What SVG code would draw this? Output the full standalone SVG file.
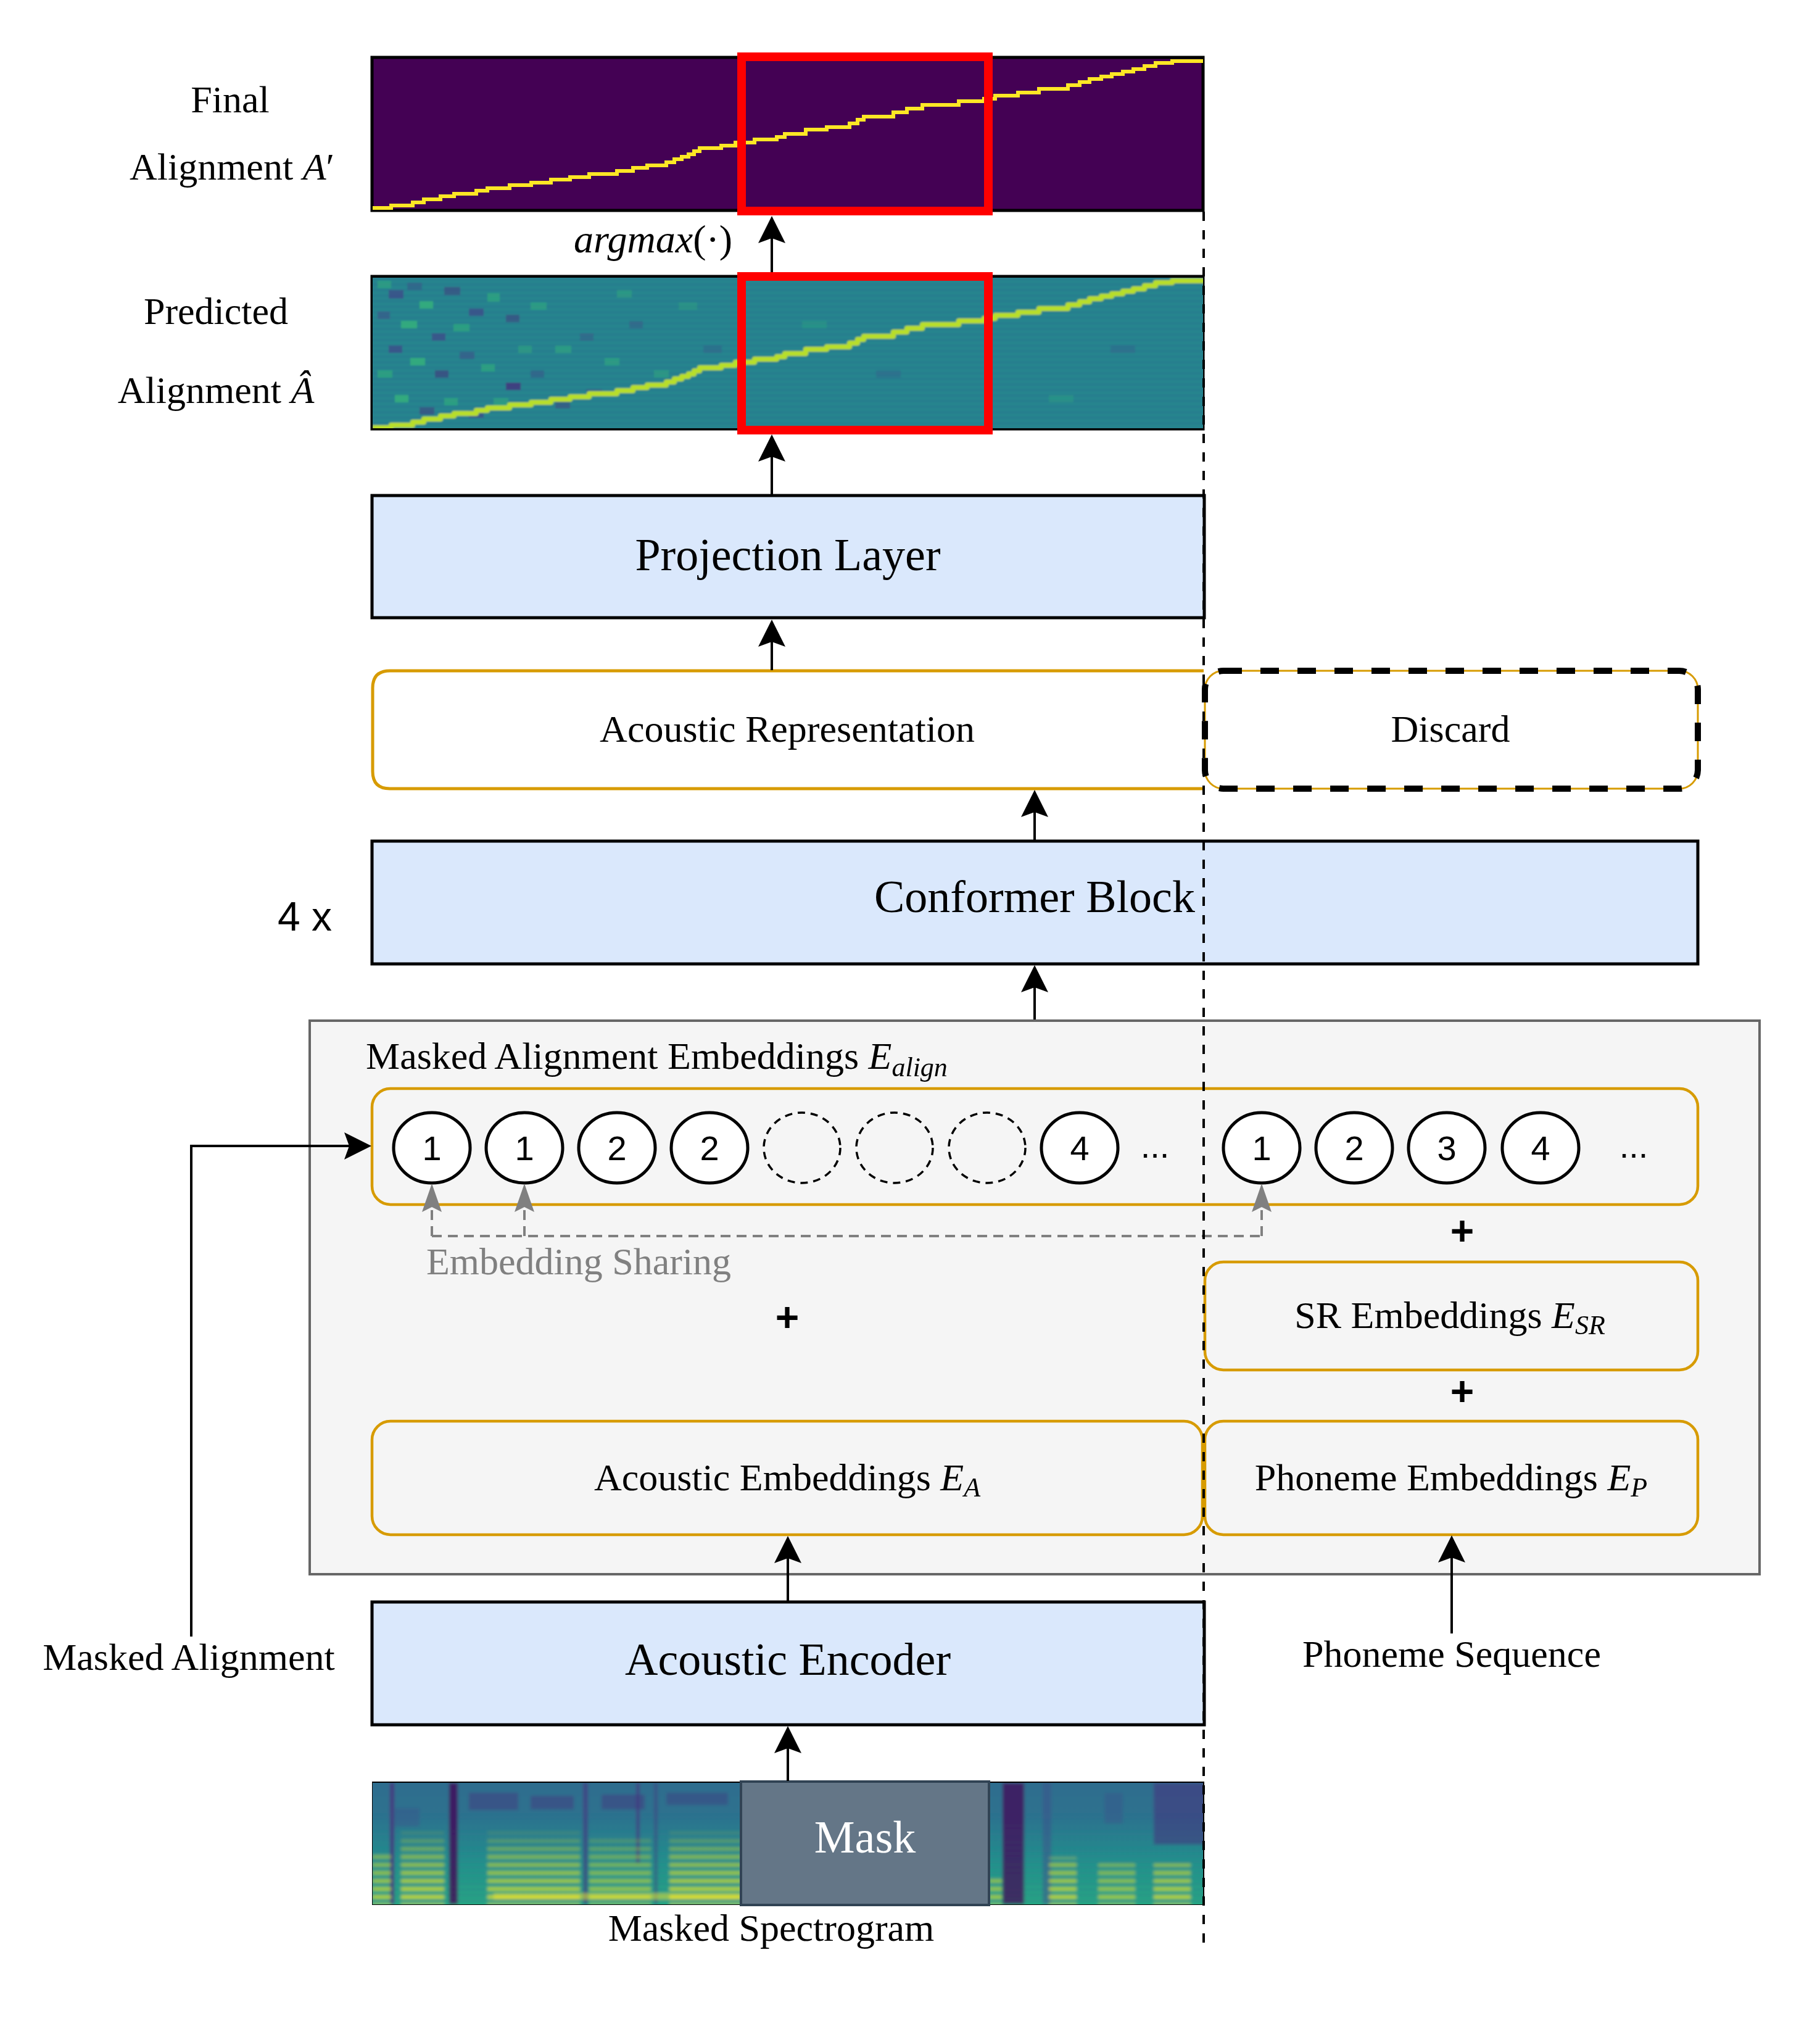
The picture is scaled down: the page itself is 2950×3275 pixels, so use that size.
<svg xmlns="http://www.w3.org/2000/svg" width="2950" height="3275" viewBox="0 0 2950 3275">
<style>
.serif{font-family:"Liberation Serif","Times New Roman",serif;fill:#000}
.sans{font-family:"Liberation Sans",Arial,sans-serif;fill:#000}
.it{font-style:italic}
.blue{fill:#dae8fc;stroke:#000;stroke-width:5}
.orange{fill:none;stroke:#d79b00;stroke-width:4.5}
.circ{fill:#fff;stroke:#000;stroke-width:5}
.dcirc{fill:none;stroke:#000;stroke-width:3.5;stroke-dasharray:12 9}
.conn{fill:none;stroke:#000;stroke-width:4}
.gconn{fill:none;stroke:#808080;stroke-width:4;stroke-dasharray:16 10}
.redbox{fill:none;stroke:#ff0000;stroke-width:14}
.num{font-family:"Liberation Sans",Arial,sans-serif;font-size:56px;text-anchor:middle}
.plus{font-family:"Liberation Sans",Arial,sans-serif;font-size:66px;font-weight:bold;text-anchor:middle}
</style>
<defs>
<marker id="ah" viewBox="-50 -25 60 50" markerWidth="60" markerHeight="50" refX="-10" refY="0" orient="auto" markerUnits="userSpaceOnUse">
<path d="M0,0 L-44,-22 L-36,0 L-44,22 Z" fill="#000"/>
</marker>
<marker id="gh" viewBox="-50 -25 60 50" markerWidth="60" markerHeight="50" refX="-10" refY="0" orient="auto" markerUnits="userSpaceOnUse">
<path d="M0,0 L-46,-16 L-38,0 L-46,16 Z" fill="#808080"/>
</marker>
<linearGradient id="specg" x1="0" y1="0" x2="0" y2="1">
<stop offset="0" stop-color="#2f6b8e"/>
<stop offset="0.3" stop-color="#2c728e"/>
<stop offset="0.6" stop-color="#21918c"/>
<stop offset="1" stop-color="#28ae80"/>
</linearGradient>
<linearGradient id="harmfade" x1="0" y1="0" x2="0" y2="1">
<stop offset="0" stop-color="#fff" stop-opacity="0"/>
<stop offset="0.35" stop-color="#fff" stop-opacity="0.55"/>
<stop offset="1" stop-color="#fff" stop-opacity="1"/>
</linearGradient>
<mask id="harmMask" maskUnits="userSpaceOnUse" x="600" y="2880" width="1360" height="210">
<rect x="600" y="2960" width="1360" height="130" fill="url(#harmfade)"/>
</mask>
<pattern id="harm" x="0" y="2889" width="20" height="13" patternUnits="userSpaceOnUse">
<rect x="0" y="0" width="20" height="6" fill="#d8e219"/>
</pattern>
<pattern id="hstripe" x="0" y="0" width="20" height="9" patternUnits="userSpaceOnUse">
<rect x="0" y="0" width="20" height="4" fill="#2f6c8e" opacity="0.35"/>
</pattern>
<filter id="soft" x="-5%" y="-5%" width="110%" height="110%"><feGaussianBlur stdDeviation="2.5"/></filter>
<filter id="soft2" x="-5%" y="-5%" width="110%" height="110%"><feGaussianBlur stdDeviation="1.5"/></filter>
<clipPath id="clipFinal"><rect x="604" y="94" width="1346" height="246"/></clipPath>
<clipPath id="clipPred"><rect x="604" y="450" width="1346" height="244"/></clipPath>
<clipPath id="clipSpecL"><rect x="604" y="2889" width="597" height="197"/></clipPath>
<clipPath id="clipSpecR"><rect x="1604" y="2889" width="346" height="197"/></clipPath>
</defs>

<rect x="0" y="0" width="2950" height="3275" fill="#fff"/>

<!-- Final alignment -->
<g id="final-alignment">
<rect x="603" y="93" width="1347" height="248" fill="#440154" stroke="#000" stroke-width="5"/>
<g clip-path="url(#clipFinal)">
<path d="M604,337 H634 V333 H669 V328 H687 V323 H714 V318 H736 V314 H772 V309 H790 V305 H826 V300 H861 V296 H893 V291 H924 V287 H955 V282 H1000 V277 H1026 V272 H1049 V268 H1080 V263 H1093 V258 H1105 V254 H1116 V250 H1125 V245 H1134 V240 H1169 V236 H1192 V231 H1223 V226 H1259 V222 H1272 V217 H1306 V210 H1340 V206 H1377 V200 H1390 V194 H1400 V189 H1448 V182 H1470 V176 H1495 V170 H1554 V164 H1595 V160 H1613 V155 H1650 V150 H1684 V144 H1731 V138 H1750 V133 H1766 V128 H1785 V124 H1802 V120 H1820 V116 H1837 V112 H1855 V107 H1873 V102 H1900 V99 H1950 V96" fill="none" stroke="#fde725" stroke-width="6"/>
</g>
<rect class="redbox" x="1202" y="92" width="400" height="250"/>
<text class="serif" x="373" y="182" font-size="62" text-anchor="middle">Final</text>
<text class="serif" x="376" y="291" font-size="62" text-anchor="middle">Alignment <tspan class="it">A</tspan>′</text>
</g>

<!-- argmax label -->
<g id="argmax-label">
<text class="serif" x="930" y="409" font-size="64"><tspan class="it">argmax</tspan>(·)</text>
</g>

<!-- Predicted alignment -->
<g id="predicted-alignment">
<rect x="603" y="448" width="1347" height="247" fill="#25858e" stroke="#000" stroke-width="5"/>
<g clip-path="url(#clipPred)">
<g filter="url(#soft2)">
<rect x="590" y="440" width="1370" height="264" fill="#25858e"/>
<rect x="590" y="450" width="1370" height="250" fill="url(#hstripe)"/>
<g opacity="0.75">
<rect x="630" y="470" width="24" height="14" fill="#3e4a89"/>
<rect x="612" y="455" width="22" height="12" fill="#35b779" opacity="0.6"/>
<rect x="660" y="458" width="24" height="12" fill="#3e4a89" opacity="0.6"/>
<rect x="680" y="488" width="22" height="12" fill="#35b779"/>
<rect x="720" y="465" width="26" height="13" fill="#472d7b" opacity="0.6"/>
<rect x="760" y="500" width="24" height="12" fill="#3e4a89"/>
<rect x="790" y="475" width="20" height="14" fill="#35b779" opacity="0.7"/>
<rect x="650" y="520" width="26" height="12" fill="#35b779"/>
<rect x="612" y="505" width="20" height="12" fill="#3e4a89" opacity="0.7"/>
<rect x="700" y="540" width="22" height="12" fill="#3e4a89"/>
<rect x="735" y="525" width="26" height="12" fill="#35b779" opacity="0.7"/>
<rect x="820" y="510" width="22" height="12" fill="#472d7b" opacity="0.6"/>
<rect x="860" y="490" width="26" height="12" fill="#35b779" opacity="0.6"/>
<rect x="630" y="560" width="22" height="12" fill="#3e4a89"/>
<rect x="612" y="600" width="24" height="12" fill="#35b779" opacity="0.7"/>
<rect x="665" y="580" width="24" height="12" fill="#35b779"/>
<rect x="705" y="600" width="22" height="12" fill="#472d7b" opacity="0.7"/>
<rect x="745" y="570" width="24" height="12" fill="#3e4a89" opacity="0.7"/>
<rect x="780" y="590" width="22" height="12" fill="#35b779" opacity="0.7"/>
<rect x="820" y="620" width="24" height="12" fill="#472d7b"/>
<rect x="860" y="600" width="22" height="12" fill="#3e4a89" opacity="0.6"/>
<rect x="900" y="560" width="26" height="12" fill="#35b779" opacity="0.6"/>
<rect x="940" y="540" width="22" height="12" fill="#3e4a89" opacity="0.5"/>
<rect x="640" y="640" width="22" height="12" fill="#35b779"/>
<rect x="680" y="660" width="24" height="12" fill="#472d7b" opacity="0.6"/>
<rect x="720" y="645" width="22" height="12" fill="#35b779" opacity="0.7"/>
<rect x="760" y="665" width="24" height="12" fill="#3e4a89"/>
<rect x="800" y="645" width="24" height="12" fill="#35b779" opacity="0.6"/>
<rect x="980" y="580" width="24" height="12" fill="#35b779" opacity="0.6"/>
<rect x="1020" y="520" width="22" height="12" fill="#3e4a89" opacity="0.5"/>
<rect x="1060" y="600" width="24" height="12" fill="#35b779" opacity="0.5"/>
<rect x="950" y="630" width="26" height="12" fill="#3e4a89" opacity="0.5"/>
<rect x="1000" y="470" width="24" height="12" fill="#35b779" opacity="0.5"/>
<rect x="900" y="650" width="24" height="12" fill="#472d7b" opacity="0.5"/>
<rect x="840" y="560" width="22" height="12" fill="#35b779" opacity="0.5"/>
<rect x="1100" y="490" width="30" height="12" fill="#35b779" opacity="0.4"/>
<rect x="1140" y="560" width="30" height="12" fill="#3e4a89" opacity="0.4"/>
<rect x="1300" y="520" width="40" height="12" fill="#35b779" opacity="0.35"/>
<rect x="1420" y="600" width="40" height="12" fill="#3e4a89" opacity="0.35"/>
<rect x="1700" y="640" width="40" height="12" fill="#35b779" opacity="0.35"/>
<rect x="1800" y="560" width="40" height="12" fill="#3e4a89" opacity="0.35"/>
</g>
<path transform="translate(0,356)" d="M604,337 H634 V333 H669 V328 H687 V323 H714 V318 H736 V314 H772 V309 H790 V305 H826 V300 H861 V296 H893 V291 H924 V287 H955 V282 H1000 V277 H1026 V272 H1049 V268 H1080 V263 H1093 V258 H1105 V254 H1116 V250 H1125 V245 H1134 V240 H1169 V236 H1192 V231 H1223 V226 H1259 V222 H1272 V217 H1306 V210 H1340 V206 H1377 V200 H1390 V194 H1400 V189 H1448 V182 H1470 V176 H1495 V170 H1554 V164 H1595 V160 H1613 V155 H1650 V150 H1684 V144 H1731 V138 H1750 V133 H1766 V128 H1785 V124 H1802 V120 H1820 V116 H1837 V112 H1855 V107 H1873 V102 H1900 V99 H1950 V96" fill="none" stroke="#b8de29" stroke-width="8" stroke-linejoin="round"/>
</g>
</g>
<rect class="redbox" x="1202" y="448" width="400" height="249"/>
<text class="serif" x="350" y="525" font-size="62" text-anchor="middle">Predicted</text>
<text class="serif" x="350" y="653" font-size="62" text-anchor="middle">Alignment <tspan class="it">Â</tspan></text>
</g>

<!-- Projection layer -->
<g id="projection-layer">
<rect class="blue" x="603" y="803" width="1349" height="198"/>
<text class="serif" x="1277" y="924" font-size="74" text-anchor="middle">Projection Layer</text>
</g>

<!-- Acoustic representation -->
<g id="acoustic-representation">
<path d="M1951,1087 H632 Q604,1087 604,1115 V1250 Q604,1278 632,1278 H1951" fill="#fff" stroke="#d79b00" stroke-width="5"/>
<text class="serif" x="1276" y="1202" font-size="62" text-anchor="middle">Acoustic Representation</text>
</g>

<!-- Discard -->
<g id="discard">
<rect x="1953" y="1087" width="799" height="191" rx="30" ry="30" fill="#fff" stroke="#d79b00" stroke-width="3"/>
<rect x="1953" y="1087" width="799" height="191" rx="30" ry="30" fill="none" stroke="#000" stroke-width="10" stroke-dasharray="30 30"/>
<text class="serif" x="2351" y="1202" font-size="62" text-anchor="middle">Discard</text>
</g>

<!-- Conformer block -->
<g id="conformer-block">
<rect class="blue" x="603" y="1363" width="2149" height="199"/>
<text class="serif" x="1677" y="1478" font-size="74" text-anchor="middle">Conformer Block</text>
<text class="sans" x="494" y="1508" font-size="66" text-anchor="middle">4 x</text>
</g>

<!-- Embedding container -->
<g id="embedding-container">
<rect x="502" y="1654" width="2350" height="897" fill="#f5f5f5" stroke="#666666" stroke-width="4"/>
<text class="serif" x="593" y="1732" font-size="62">Masked Alignment Embeddings <tspan class="it">E</tspan><tspan class="it" font-size="44" dy="12">align</tspan></text>
</g>

<!-- Masked alignment embeddings row -->
<g id="alignment-embeddings">
<rect class="orange" x="603" y="1764" width="2149" height="188" rx="30" ry="30"/>
<ellipse class="circ" cx="700" cy="1860" rx="62" ry="57"/>
<text class="num" x="700" y="1880">1</text>
<ellipse class="circ" cx="850" cy="1860" rx="62" ry="57"/>
<text class="num" x="850" y="1880">1</text>
<ellipse class="circ" cx="1000" cy="1860" rx="62" ry="57"/>
<text class="num" x="1000" y="1880">2</text>
<ellipse class="circ" cx="1150" cy="1860" rx="62" ry="57"/>
<text class="num" x="1150" y="1880">2</text>
<ellipse class="dcirc" cx="1300" cy="1860" rx="62" ry="57"/>
<ellipse class="dcirc" cx="1450" cy="1860" rx="62" ry="57"/>
<ellipse class="dcirc" cx="1600" cy="1860" rx="62" ry="57"/>
<ellipse class="circ" cx="1750" cy="1860" rx="62" ry="57"/>
<text class="num" x="1750" y="1880">4</text>
<text class="num" x="1872" y="1876" font-size="50">...</text>
<ellipse class="circ" cx="2045" cy="1860" rx="62" ry="57"/>
<text class="num" x="2045" y="1880">1</text>
<ellipse class="circ" cx="2195" cy="1860" rx="62" ry="57"/>
<text class="num" x="2195" y="1880">2</text>
<ellipse class="circ" cx="2345" cy="1860" rx="62" ry="57"/>
<text class="num" x="2345" y="1880">3</text>
<ellipse class="circ" cx="2497" cy="1860" rx="62" ry="57"/>
<text class="num" x="2497" y="1880">4</text>
<text class="num" x="2648" y="1876" font-size="50">...</text>
</g>

<g id="plus-signs">
<text class="plus" x="2370" y="2017">+</text>
<text class="plus" x="1276" y="2157">+</text>
<text class="plus" x="2370" y="2277">+</text>
</g>

<g id="embedding-sharing-label">
<text class="serif" x="938" y="2065" font-size="62" text-anchor="middle" style="fill:#808080">Embedding Sharing</text>
</g>

<!-- SR embeddings -->
<g id="sr-embeddings">
<rect class="orange" x="1953" y="2045" width="799" height="175" rx="30" ry="30"/>
<text class="serif" x="2350" y="2152" font-size="62" text-anchor="middle">SR Embeddings <tspan class="it">E</tspan><tspan class="it" font-size="44" dy="10">SR</tspan></text>
</g>

<!-- Acoustic embeddings -->
<g id="acoustic-embeddings">
<rect class="orange" x="603" y="2303" width="1346" height="184" rx="30" ry="30"/>
<text class="serif" x="1276" y="2415" font-size="62" text-anchor="middle">Acoustic Embeddings <tspan class="it">E</tspan><tspan class="it" font-size="44" dy="10">A</tspan></text>
</g>

<!-- Phoneme embeddings -->
<g id="phoneme-embeddings">
<rect class="orange" x="1953" y="2303" width="799" height="184" rx="30" ry="30"/>
<text class="serif" x="2352" y="2415" font-size="62" text-anchor="middle">Phoneme Embeddings <tspan class="it">E</tspan><tspan class="it" font-size="44" dy="10">P</tspan></text>
</g>

<!-- Acoustic encoder -->
<g id="acoustic-encoder">
<rect class="blue" x="603" y="2596" width="1349" height="199"/>
<text class="serif" x="1277" y="2714" font-size="74" text-anchor="middle">Acoustic Encoder</text>
</g>

<!-- Input labels -->
<g id="masked-alignment-label">
<text class="serif" x="306" y="2706" font-size="62" text-anchor="middle">Masked Alignment</text>
</g>
<g id="phoneme-sequence-label">
<text class="serif" x="2353" y="2701" font-size="62" text-anchor="middle">Phoneme Sequence</text>
</g>

<!-- Masked spectrogram -->
<g id="masked-spectrogram">
<rect x="603" y="2887" width="1349" height="200" fill="#000"/>
<g clip-path="url(#clipSpecL)">
<g filter="url(#soft)">
<rect x="590" y="2875" width="625" height="225" fill="url(#specg)"/>
<rect x="590" y="2889" width="625" height="197" fill="url(#hstripe)"/>
<rect x="760" y="2905" width="80" height="28" fill="#46327e" opacity="0.45"/>
<rect x="860" y="2910" width="70" height="22" fill="#46327e" opacity="0.45"/>
<rect x="975" y="2908" width="70" height="24" fill="#46327e" opacity="0.45"/>
<rect x="1080" y="2905" width="100" height="20" fill="#46327e" opacity="0.35"/>
<rect x="640" y="2930" width="40" height="30" fill="#3b528b" opacity="0.4"/>
<rect x="632" y="2889" width="7" height="197" fill="#46327e" opacity="0.85"/>
<rect x="728" y="2889" width="14" height="197" fill="#440154" opacity="0.75"/>
<rect x="945" y="2889" width="8" height="197" fill="#46327e" opacity="0.6"/>
<rect x="1031" y="2889" width="6" height="130" fill="#46327e" opacity="0.6"/>
<rect x="1060" y="2889" width="6" height="197" fill="#46327e" opacity="0.4"/>
<g mask="url(#harmMask)">
<rect x="650" y="2960" width="70" height="126" fill="url(#harm)" opacity="0.9"/>
<rect x="790" y="2960" width="150" height="126" fill="url(#harm)" opacity="0.85"/>
<rect x="955" y="2975" width="100" height="111" fill="url(#harm)" opacity="0.7"/>
<rect x="1085" y="2955" width="116" height="131" fill="url(#harm)" opacity="0.9"/>
<rect x="604" y="3000" width="30" height="86" fill="url(#harm)" opacity="0.8"/>
</g>
<rect x="800" y="3068" width="400" height="10" fill="#fde725" opacity="0.5"/>
</g>
</g>
<g clip-path="url(#clipSpecR)">
<g filter="url(#soft)">
<rect x="1590" y="2875" width="375" height="225" fill="url(#specg)"/>
<rect x="1590" y="2889" width="375" height="197" fill="url(#hstripe)"/>
<rect x="1625" y="2889" width="35" height="197" fill="#440154" opacity="0.7"/>
<rect x="1690" y="2889" width="14" height="197" fill="#3b528b" opacity="0.5"/>
<rect x="1870" y="2889" width="85" height="100" fill="#46327e" opacity="0.55"/>
<rect x="1790" y="2905" width="30" height="50" fill="#3b528b" opacity="0.4"/>
<g mask="url(#harmMask)">
<rect x="1700" y="3010" width="45" height="76" fill="url(#harm)" opacity="0.85"/>
<rect x="1780" y="3020" width="60" height="66" fill="url(#harm)" opacity="0.7"/>
<rect x="1870" y="3020" width="60" height="66" fill="url(#harm)" opacity="0.85"/>
<rect x="1604" y="3040" width="20" height="46" fill="url(#harm)" opacity="0.7"/>
</g>
</g>
</g>
<rect x="1201" y="2887" width="402" height="200" fill="#647687" stroke="#314354" stroke-width="4"/>
<text class="serif" x="1402" y="3002" font-size="74" text-anchor="middle" style="fill:#fff">Mask</text>
<text class="serif" x="1250" y="3145" font-size="62" text-anchor="middle">Masked Spectrogram</text>
</g>

<!-- Connectors -->
<g id="connectors">
<path class="conn" d="M1251,441 V360" marker-end="url(#ah)"/>
<path class="conn" d="M1251,802 V714" marker-end="url(#ah)"/>
<path class="conn" d="M1251,1086 V1014" marker-end="url(#ah)"/>
<path class="conn" d="M1677,1362 V1290" marker-end="url(#ah)"/>
<path class="conn" d="M1677,1652 V1574" marker-end="url(#ah)"/>
<path class="conn" d="M310,2652 V1857 H592" marker-end="url(#ah)"/>
<path class="conn" d="M1277,2595 V2499" marker-end="url(#ah)"/>
<path class="conn" d="M2353,2647 V2498" marker-end="url(#ah)"/>
<path class="conn" d="M1277,2886 V2807" marker-end="url(#ah)"/>
<path class="gconn" d="M700,2003 H2045"/>
<path class="gconn" d="M700,2003 V1928" marker-end="url(#gh)"/>
<path class="gconn" d="M850,2003 V1928" marker-end="url(#gh)"/>
<path class="gconn" d="M2045,2003 V1928" marker-end="url(#gh)"/>
<path d="M1951,343 V3152" fill="none" stroke="#000" stroke-width="4" stroke-dasharray="15 15"/>
</g>
</svg>
